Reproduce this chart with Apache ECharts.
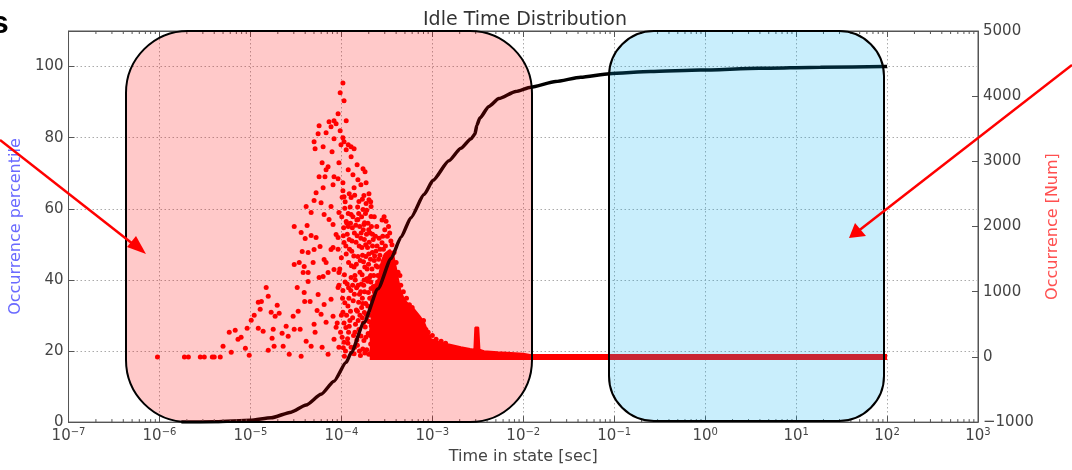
<!DOCTYPE html>
<html>
<head>
<meta charset="utf-8">
<script src="https://cdn.jsdelivr.net/npm/echarts@6/dist/echarts.min.js"></script>
<style>
  html, body { margin: 0; padding: 0; background: #fff; }
  #chart { width: 1072px; height: 470px; }
</style>
</head>
<body>
<div id="chart"></div>
<script>
// cumulative occurrence percentile (left axis)
var curveTime = [1.74e-6, 4.2e-6, 1.0e-5, 1.69e-5, 2.8e-5, 4.1e-5, 5.98e-5, 8.3e-5, 1.13e-4, 1.28e-4,
	1.77e-4, 2.53e-4, 3.52e-4, 4.52e-4, 5.82e-4, 8.1e-4, 1.02e-3, 1.52e-3, 2.06e-3, 2.65e-3,
	2.94e-3, 3.09e-3, 3.33e-3, 4.18e-3, 5.4e-3, 8.28e-3, 1.21e-2, 2.27e-2, 4.28e-2, 8.9e-2,
	0.251, 0.888, 3.94, 18.5, 93, 100];
var curvePct = [0, 0.1, 0.5, 1.2, 2.8, 4.8, 7.8, 11.5, 16.8, 19.5,
	28, 37.5, 46, 52, 57.5, 64, 68, 73.5, 77, 79.6,
	81, 83.5, 85.5, 88.8, 91, 93, 94.2, 95.8, 97, 98,
	98.6, 99, 99.5, 99.8, 100, 100];

// occurrence counts (right axis), [time, count]
var sparseDots = [
	[9.5e-7, 0], [1.88e-6, 0], [2.08e-6, 0], [2.81e-6, 0], [3.11e-6, 0], [3.81e-6, 0], [4.0e-6, 0], [4.66e-6, 0],
	[5.0e-6, 163], [6.15e-6, 71], [5.85e-6, 378], [6.8e-6, 408], [7.3e-6, 270], [7.9e-6, 301], [9.2e-6, 439],
	[8.8e-6, 133], [9.7e-6, 25], [1.02e-5, 561], [1.1e-5, 638], [1.22e-5, 837], [1.32e-5, 852], [1.49e-5, 1066],
	[1.57e-5, 929], [1.28e-5, 730], [1.22e-5, 439], [1.38e-5, 393], [1.57e-5, 102], [1.69e-5, 684], [1.97e-5, 791],
	[2.07e-5, 669], [1.87e-5, 623], [1.78e-5, 424], [1.73e-5, 286], [1.82e-5, 163], [2.23e-5, 362], [2.29e-5, 163],
	[2.47e-5, 469], [2.6e-5, 316], [2.67e-5, 41], [2.95e-5, 623], [3.03e-5, 424], [3.27e-5, 1066], [3.35e-5, 699],
	[3.52e-5, 424], [3.61e-5, 10], [3.9e-5, 990], [3.95e-5, 852], [4.1e-5, 240], [4.31e-5, 1158], [4.53e-5, 852],
	[4.65e-5, 163], [5.01e-5, 500], [5.14e-5, 378], [5.55e-5, 959], [5.69e-5, 1219], [5.41e-5, 714], [5.98e-5, 653],
	[6.14e-5, 148], [6.46e-5, 806], [6.79e-5, 531], [7.14e-5, 41], [7.7e-5, 883], [8.1e-5, 623], [8.3e-5, 270],
	[8.75e-5, 454], [9.2e-5, 1066], [9.4e-5, 148], [1.04e-4, 684], [1.07e-4, 225],
	[3.03e-5, 1418], [3.44e-5, 1449], [3.9e-5, 1388], [4.31e-5, 1296], [4.89e-5, 1449], [3.8e-5, 1296],
	[3.71e-5, 1617], [4.31e-5, 1602], [5.01e-5, 1648], [3.61e-5, 1908], [4.0e-5, 1816], [4.65e-5, 1862],
	[5.27e-5, 1832], [5.83e-5, 1694], [6.46e-5, 1495], [6.79e-5, 1449], [7.7e-5, 1648], [8.1e-5, 1679],
	[8.75e-5, 1878], [9.4e-5, 1296], [7.14e-5, 1296], [6.3e-5, 1235], [9.2e-5, 1832], [1.07e-4, 1755], [8.3e-5, 1342]
];
var peakDots = [
	[1.04e-4, 4204], [9.7e-5, 4051], [1.07e-4, 3929], [9.2e-5, 3730], [8.3e-5, 3622], [7.32e-5, 3607], [8.75e-5, 3577],
	[1.13e-4, 3622], [5.69e-5, 3546], [7.7e-5, 3531], [6.79e-5, 3439], [5.55e-5, 3424], [9.7e-5, 3469], [8.3e-5, 3347],
	[1.04e-4, 3362], [5.01e-5, 3301], [6.3e-5, 3224], [5.14e-5, 3194], [1.07e-4, 3301], [1.19e-4, 3255], [1.28e-4, 3224],
	[1.38e-4, 3194], [7.9e-5, 3148], [9.9e-5, 3255], [1.13e-4, 3179], [1.28e-4, 3071], [6.14e-5, 2980], [9.4e-5, 2980],
	[1.49e-4, 2949], [7.14e-5, 2918], [6.79e-5, 2873], [1.73e-4, 2888], [1.82e-4, 2842], [1.19e-4, 2873], [1.34e-4, 2796],
	[5.69e-5, 2765], [6.6e-5, 2765], [8.3e-5, 2765], [9.2e-5, 2735], [8.1e-5, 2643], [1.52e-4, 2719], [1.64e-4, 2643],
	[1.04e-4, 2673], [6.3e-5, 2597], [1.87e-4, 2673], [5.27e-5, 2520], [1.04e-4, 2551], [1.22e-4, 2505], [1.38e-4, 2597],
	[1.77e-4, 2475], [2.01e-4, 2505], [5.01e-5, 2398], [5.98e-5, 2367], [1.07e-4, 2459], [1.28e-4, 2444], [1.56e-4, 2383],
	[1.87e-4, 2352], [2.01e-4, 2413], [4.1e-5, 2306], [4.65e-5, 2214], [7.7e-5, 2306], [6.46e-5, 2184], [9.4e-5, 2214],
	[1.28e-4, 2184], [1.73e-4, 2260], [2.12e-4, 2306], [7.32e-5, 2107], [1.13e-4, 2077], [1.52e-4, 2107], [2.12e-4, 2153],
	[3.03e-5, 2000], [4.2e-5, 2015], [8.1e-5, 2031], [1.19e-4, 2000], [1.77e-4, 2031]
];
var denseDots = [
	[1.02e-4, 2450], [1.1e-4, 2380], [1.25e-4, 2300], [1.4e-4, 2480], [1.55e-4, 2200], [1.7e-4, 2420], [1.9e-4, 2250],
	[2.1e-4, 2380], [2.3e-4, 2150], [1.15e-4, 2050], [1.32e-4, 1980], [1.48e-4, 2100], [1.65e-4, 1900], [1.8e-4, 2060],
	[2.0e-4, 1950], [2.2e-4, 1880], [2.45e-4, 2000], [2.6e-4, 1820], [1.05e-4, 1860], [1.22e-4, 1800],
	[9.2e-5, 1650], [1.0e-4, 1520], [1.12e-4, 1700], [1.2e-4, 1450], [1.3e-4, 1620], [1.38e-4, 1380], [1.45e-4, 1760],
	[1.52e-4, 1540], [1.6e-4, 1300], [1.68e-4, 1680], [1.75e-4, 1460], [1.85e-4, 1720], [1.92e-4, 1350], [2.0e-4, 1580],
	[2.1e-4, 1250], [2.2e-4, 1700], [2.3e-4, 1480], [2.4e-4, 1620], [2.5e-4, 1380], [2.65e-4, 1560], [2.8e-4, 1750],
	[2.9e-4, 1650], [3.05e-4, 1700], [1.08e-4, 1260], [1.28e-4, 1220], [9.6e-5, 1350],
	[9.4e-5, 1100], [1.03e-4, 900], [1.1e-4, 1150], [1.18e-4, 780], [1.27e-4, 1020], [1.35e-4, 860], [1.42e-4, 1180],
	[1.5e-4, 700], [1.58e-4, 960], [1.66e-4, 1120], [1.72e-4, 820], [1.8e-4, 1000], [1.88e-4, 650], [1.95e-4, 1160],
	[2.05e-4, 900], [2.15e-4, 760], [2.25e-4, 1080], [2.35e-4, 950], [2.5e-4, 1150], [2.6e-4, 820], [2.7e-4, 1200],
	[1.0e-4, 640], [1.2e-4, 1060],
	[9.0e-5, 520], [9.8e-5, 380], [1.05e-4, 140], [1.12e-4, 450], [1.17e-4, 280], [1.24e-4, 560], [1.3e-4, 60],
	[1.36e-4, 330], [1.43e-4, 500], [1.5e-4, 180], [1.56e-4, 420], [1.62e-4, 20], [1.7e-4, 600], [1.77e-4, 250],
	[1.83e-4, 460], [1.9e-4, 110], [1.97e-4, 360], [2.03e-4, 540], [2.1e-4, 200], [2.18e-4, 400], [2.26e-4, 30],
	[2.33e-4, 580], [2.42e-4, 300], [2.5e-4, 480], [2.58e-4, 150], [1.08e-4, 10], [1.4e-4, 150], [1.2e-4, 380],
	[3.0e-4, 1950], [3.2e-4, 1850], [3.4e-4, 1900], [3.1e-4, 2080], [3.6e-4, 1720], [3.8e-4, 1600], [4.0e-4, 1450],
	[4.2e-4, 1300], [4.5e-4, 1100], [4.8e-4, 1000], [5.2e-4, 900], [5.6e-4, 800], [6.0e-4, 760], [6.5e-4, 650],
	[7.0e-4, 600], [7.5e-4, 540], [8.0e-4, 560], [8.5e-4, 420], [9.0e-4, 380], [1.0e-3, 330], [1.1e-3, 270],
	[1.25e-3, 240], [1.4e-3, 210], [2.8e-4, 2100], [2.95e-4, 2150], [3.3e-4, 2000], [3.5e-4, 1780], [4.4e-4, 1250]
];
var packedDots = [
	[1.01e-4, 2150], [1.06e-4, 1980], [1.09e-4, 2280], [1.13e-4, 1580], [1.16e-4, 1880], [1.19e-4, 2200], [1.23e-4, 1650],
	[1.26e-4, 2050], [1.29e-4, 1400], [1.31e-4, 1780], [1.34e-4, 2150], [1.37e-4, 1550], [1.39e-4, 1900], [1.41e-4, 1250],
	[1.44e-4, 2020], [1.46e-4, 1420], [1.49e-4, 1860], [1.51e-4, 2300], [1.53e-4, 1100], [1.57e-4, 1700], [1.59e-4, 2000],
	[1.61e-4, 1480], [1.64e-4, 1820], [1.67e-4, 2150], [1.69e-4, 1260], [1.71e-4, 1560], [1.74e-4, 1950], [1.76e-4, 1100],
	[1.79e-4, 1800], [1.81e-4, 1380], [1.84e-4, 2200], [1.86e-4, 1540], [1.89e-4, 1880], [1.91e-4, 1200], [1.94e-4, 1680],
	[1.96e-4, 2050], [1.99e-4, 1420], [2.02e-4, 1760], [2.04e-4, 1220], [2.07e-4, 1900], [2.09e-4, 1500], [2.12e-4, 1050],
	[2.14e-4, 2000], [2.17e-4, 1350], [2.19e-4, 1600], [2.21e-4, 920], [2.24e-4, 1800], [2.27e-4, 1250], [2.29e-4, 680],
	[2.32e-4, 1550], [2.34e-4, 1050], [2.37e-4, 1850], [2.39e-4, 820], [2.41e-4, 1400], [2.44e-4, 620], [2.47e-4, 1700],
	[2.49e-4, 950], [2.52e-4, 1250], [2.55e-4, 700], [2.57e-4, 1500], [2.62e-4, 1050], [2.67e-4, 1650], [2.72e-4, 900],
	[2.77e-4, 1400], [2.85e-4, 1850],
	[1.02e-4, 300], [1.07e-4, 520], [1.11e-4, 90], [1.14e-4, 640], [1.18e-4, 210], [1.22e-4, 470], [1.26e-4, 700],
	[1.28e-4, 150], [1.33e-4, 600], [1.38e-4, 50], [1.41e-4, 380], [1.46e-4, 720], [1.48e-4, 260], [1.53e-4, 560],
	[1.58e-4, 90], [1.6e-4, 640], [1.64e-4, 320], [1.67e-4, 760], [1.72e-4, 120], [1.74e-4, 520], [1.79e-4, 680],
	[1.81e-4, 60], [1.86e-4, 300], [1.93e-4, 560], [1.95e-4, 780], [2.0e-4, 40], [2.06e-4, 640], [2.08e-4, 330],
	[2.13e-4, 480], [2.16e-4, 90], [2.2e-4, 700], [2.23e-4, 260], [2.28e-4, 440], [2.31e-4, 120], [2.36e-4, 350],
	[2.39e-4, 500], [2.45e-4, 80], [2.48e-4, 230], [2.53e-4, 370], [2.6e-4, 550],
	[1.04e-4, 1020], [1.09e-4, 830], [1.16e-4, 1120], [1.21e-4, 900], [1.33e-4, 1100], [1.39e-4, 960], [1.47e-4, 1060],
	[1.55e-4, 840], [1.63e-4, 1000], [1.7e-4, 900], [1.78e-4, 1180], [1.85e-4, 820], [1.98e-4, 990], [2.11e-4, 1150],
	[2.19e-4, 860], [2.3e-4, 1000], [2.43e-4, 1100], [2.56e-4, 980]
];
// solid mass of dots, drawn as a filled envelope
var massTime = [2.05e-4, 2.2e-4, 2.4e-4, 2.6e-4, 2.8e-4, 3.0e-4, 3.4e-4, 3.7e-4, 4.0e-4, 4.2e-4, 4.5e-4, 4.9e-4,
	5.5e-4, 6.3e-4, 7.2e-4, 8.1e-4, 8.9e-4, 9.7e-4, 1.2e-3, 1.48e-3, 2.06e-3, 2.6e-3, 2.9e-3, 2.97e-3,
	3.2e-3, 3.3e-3, 3.7e-3, 5.2e-3, 7.3e-3, 1.0e-2, 1.3e-2];
var massCount = [350, 700, 1000, 1250, 1480, 1580, 1640, 1580, 1350, 1190, 1000, 880,
	800, 730, 630, 530, 380, 270, 225, 194, 148, 120, 110, 450,
	450, 110, 87, 71, 60, 50, 20];
// row of dots sitting at zero count
var zeroTime = [2.05e-4, 100];
var zeroCount = [0, 0];

var xTicksMinor = [];
[-7, -6, -5, -4, -3, -2, -1, 0, 1, 2].forEach(function(e) {
	[2, 3, 4, 5, 6, 7, 8, 9].forEach(function(m) {
		xTicksMinor.push(m * Math.pow(10, e));
	});
});

var myChart = echarts.init(document.getElementById('chart'));
var FONT = 'DejaVu Sans';

function zip(a, b) {
	return a.map(function(v, i) { return [v, b[i]]; });
}

var red = '#ff0000';

var option = {
	animation: false,
	textStyle: { fontFamily: FONT },
	title: {
		text: 'Idle Time Distribution',
		left: 520,
		textAlign: 'center',
		top: 6,
		textStyle: { fontFamily: FONT, fontSize: 19, fontWeight: 'normal', color: '#333' }
	},
	grid: {
		left: 67, right: 94, top: 31, bottom: 47,
		show: true, borderColor: '#555', borderWidth: 1
	},
	xAxis: [{
		type: 'log',
		logBase: 10,
		min: 1e-7,
		max: 1e3,
		interval: 1,
		name: 'Time in state [sec]',
		nameLocation: 'middle',
		nameGap: 25,
		nameTextStyle: { fontFamily: FONT, fontSize: 16, color: '#444' },
		axisLine: { onZero: false, lineStyle: { color: '#555' } },
		axisTick: { inside: true, length: 6, lineStyle: { color: '#555' } },
		axisLabel: {
			margin: 5,
			color: '#444',
			formatter: function(v) {
				var e = Math.round(Math.log(v) / Math.LN10);
				return '{b|10}{s|' + String(e).replace('-', '\u2212') + '}';
			},
			rich: {
				b: { fontFamily: FONT, fontSize: 15, color: '#444' },
				s: { fontFamily: FONT, fontSize: 10, color: '#444', padding: [0, 0, 9, 0] }
			}
		},
		splitLine: { show: true, lineStyle: { type: [1.5, 2.5], color: '#aaa' } }
	}, {
		type: 'log',
		logBase: 10,
		min: 1e-7,
		max: 1e3,
		interval: 1,
		position: 'top',
		axisLine: { onZero: false, lineStyle: { color: '#555' } },
		axisTick: { inside: true, length: 6, lineStyle: { color: '#555' } },
		axisLabel: { show: false },
		splitLine: { show: false }
	}],
	yAxis: [{
		type: 'value',
		min: 0,
		max: 110,
		interval: 20,
		position: 'left',
		name: 'Occurrence percentile',
		nameLocation: 'middle',
		nameRotate: 90,
		nameGap: 41,
		nameTextStyle: { fontFamily: FONT, fontSize: 16, color: '#6a6aff' },
		axisLine: { show: true, onZero: false, lineStyle: { color: '#555' } },
		axisTick: { show: true, inside: true, length: 6, lineStyle: { color: '#555' } },
		axisLabel: { showMaxLabel: false, margin: 5, fontSize: 15, color: '#444', fontFamily: FONT },
		splitLine: { show: true, lineStyle: { type: [1.5, 2.5], color: '#aaa' } }
	}, {
		type: 'value',
		min: -1000,
		max: 5000,
		interval: 1000,
		position: 'right',
		name: 'Occurrence [Num]',
		nameLocation: 'middle',
		nameRotate: 90,
		nameGap: 64,
		nameTextStyle: { fontFamily: FONT, fontSize: 16, color: '#ff5050' },
		axisLine: { show: true, onZero: false, lineStyle: { color: '#555' } },
		axisTick: { show: true, inside: true, length: 6, lineStyle: { color: '#555' } },
		axisLabel: {
			margin: 5, fontSize: 15, color: '#444', fontFamily: FONT,
			formatter: function(v) { return String(v).replace('-', '\u2212'); }
		},
		splitLine: { show: false }
	}],
	series: [{
		name: 'zero',
		type: 'line',
		yAxisIndex: 1,
		data: zip(zeroTime, zeroCount),
		showSymbol: false,
		lineStyle: { color: red, width: 6 },
		z: 2
	}, {
		name: 'mass',
		type: 'line',
		yAxisIndex: 1,
		data: zip(massTime, massCount),
		showSymbol: false,
		lineStyle: { color: red, width: 2 },
		areaStyle: { color: red, opacity: 1 },
		z: 2
	}, {
		name: 'occurrence',
		type: 'scatter',
		yAxisIndex: 1,
		data: sparseDots.concat(peakDots, denseDots, packedDots),
		symbolSize: 5,
		itemStyle: { color: red, opacity: 1 },
		z: 3
	}, {
		name: 'percentile',
		type: 'line',
		yAxisIndex: 0,
		data: zip(curveTime, curvePct),
		showSymbol: false,
		smooth: 0.2,
		smoothMonotone: 'x',
		lineStyle: { color: '#000', width: 3.5 },
		z: 4
	}, {
		name: 'minorTicks',
		type: 'custom',
		yAxisIndex: 0,
		data: xTicksMinor.map(function(t) { return [t, 0]; }),
		renderItem: function(params, api) {
			var b = api.coord([api.value(0), 0]);
			var t = api.coord([api.value(0), 110]);
			var s = { stroke: '#555', lineWidth: 1 };
			return {
				type: 'group',
				children: [
					{ type: 'line', shape: { x1: b[0], y1: b[1], x2: b[0], y2: b[1] - 3 }, style: s },
					{ type: 'line', shape: { x1: t[0], y1: t[1], x2: t[0], y2: t[1] + 3 }, style: s }
				]
			};
		},
		silent: true,
		z: 5
	}],
	graphic: [{
		type: 'rect',
		shape: { x: 126, y: 31, width: 406, height: 391, r: 62 },
		style: { fill: 'rgba(255,0,0,0.21)', stroke: '#000', lineWidth: 2 },
		z: 100
	}, {
		type: 'rect',
		shape: { x: 609, y: 31, width: 275, height: 390, r: 45 },
		style: { fill: 'rgba(0,176,240,0.21)', stroke: '#000', lineWidth: 2 },
		z: 100
	}, {
		type: 'line',
		shape: { x1: 0, y1: 140, x2: 138, y2: 248 },
		style: { stroke: red, lineWidth: 2.5 },
		z: 101
	}, {
		type: 'polygon',
		shape: { points: [[146, 254], [127, 247], [136, 236]] },
		style: { fill: red },
		z: 101
	}, {
		type: 'line',
		shape: { x1: 1072, y1: 65, x2: 857, y2: 232 },
		style: { stroke: red, lineWidth: 2.5 },
		z: 101
	}, {
		type: 'polygon',
		shape: { points: [[849, 238], [855, 223], [866, 236]] },
		style: { fill: red },
		z: 101
	}, {
		type: 'text',
		left: -9,
		top: 8,
		style: { text: 's', font: 'bold 32px "Liberation Sans"', fill: '#000' },
		z: 101
	}]
};

myChart.setOption(option);
</script>
</body>
</html>
